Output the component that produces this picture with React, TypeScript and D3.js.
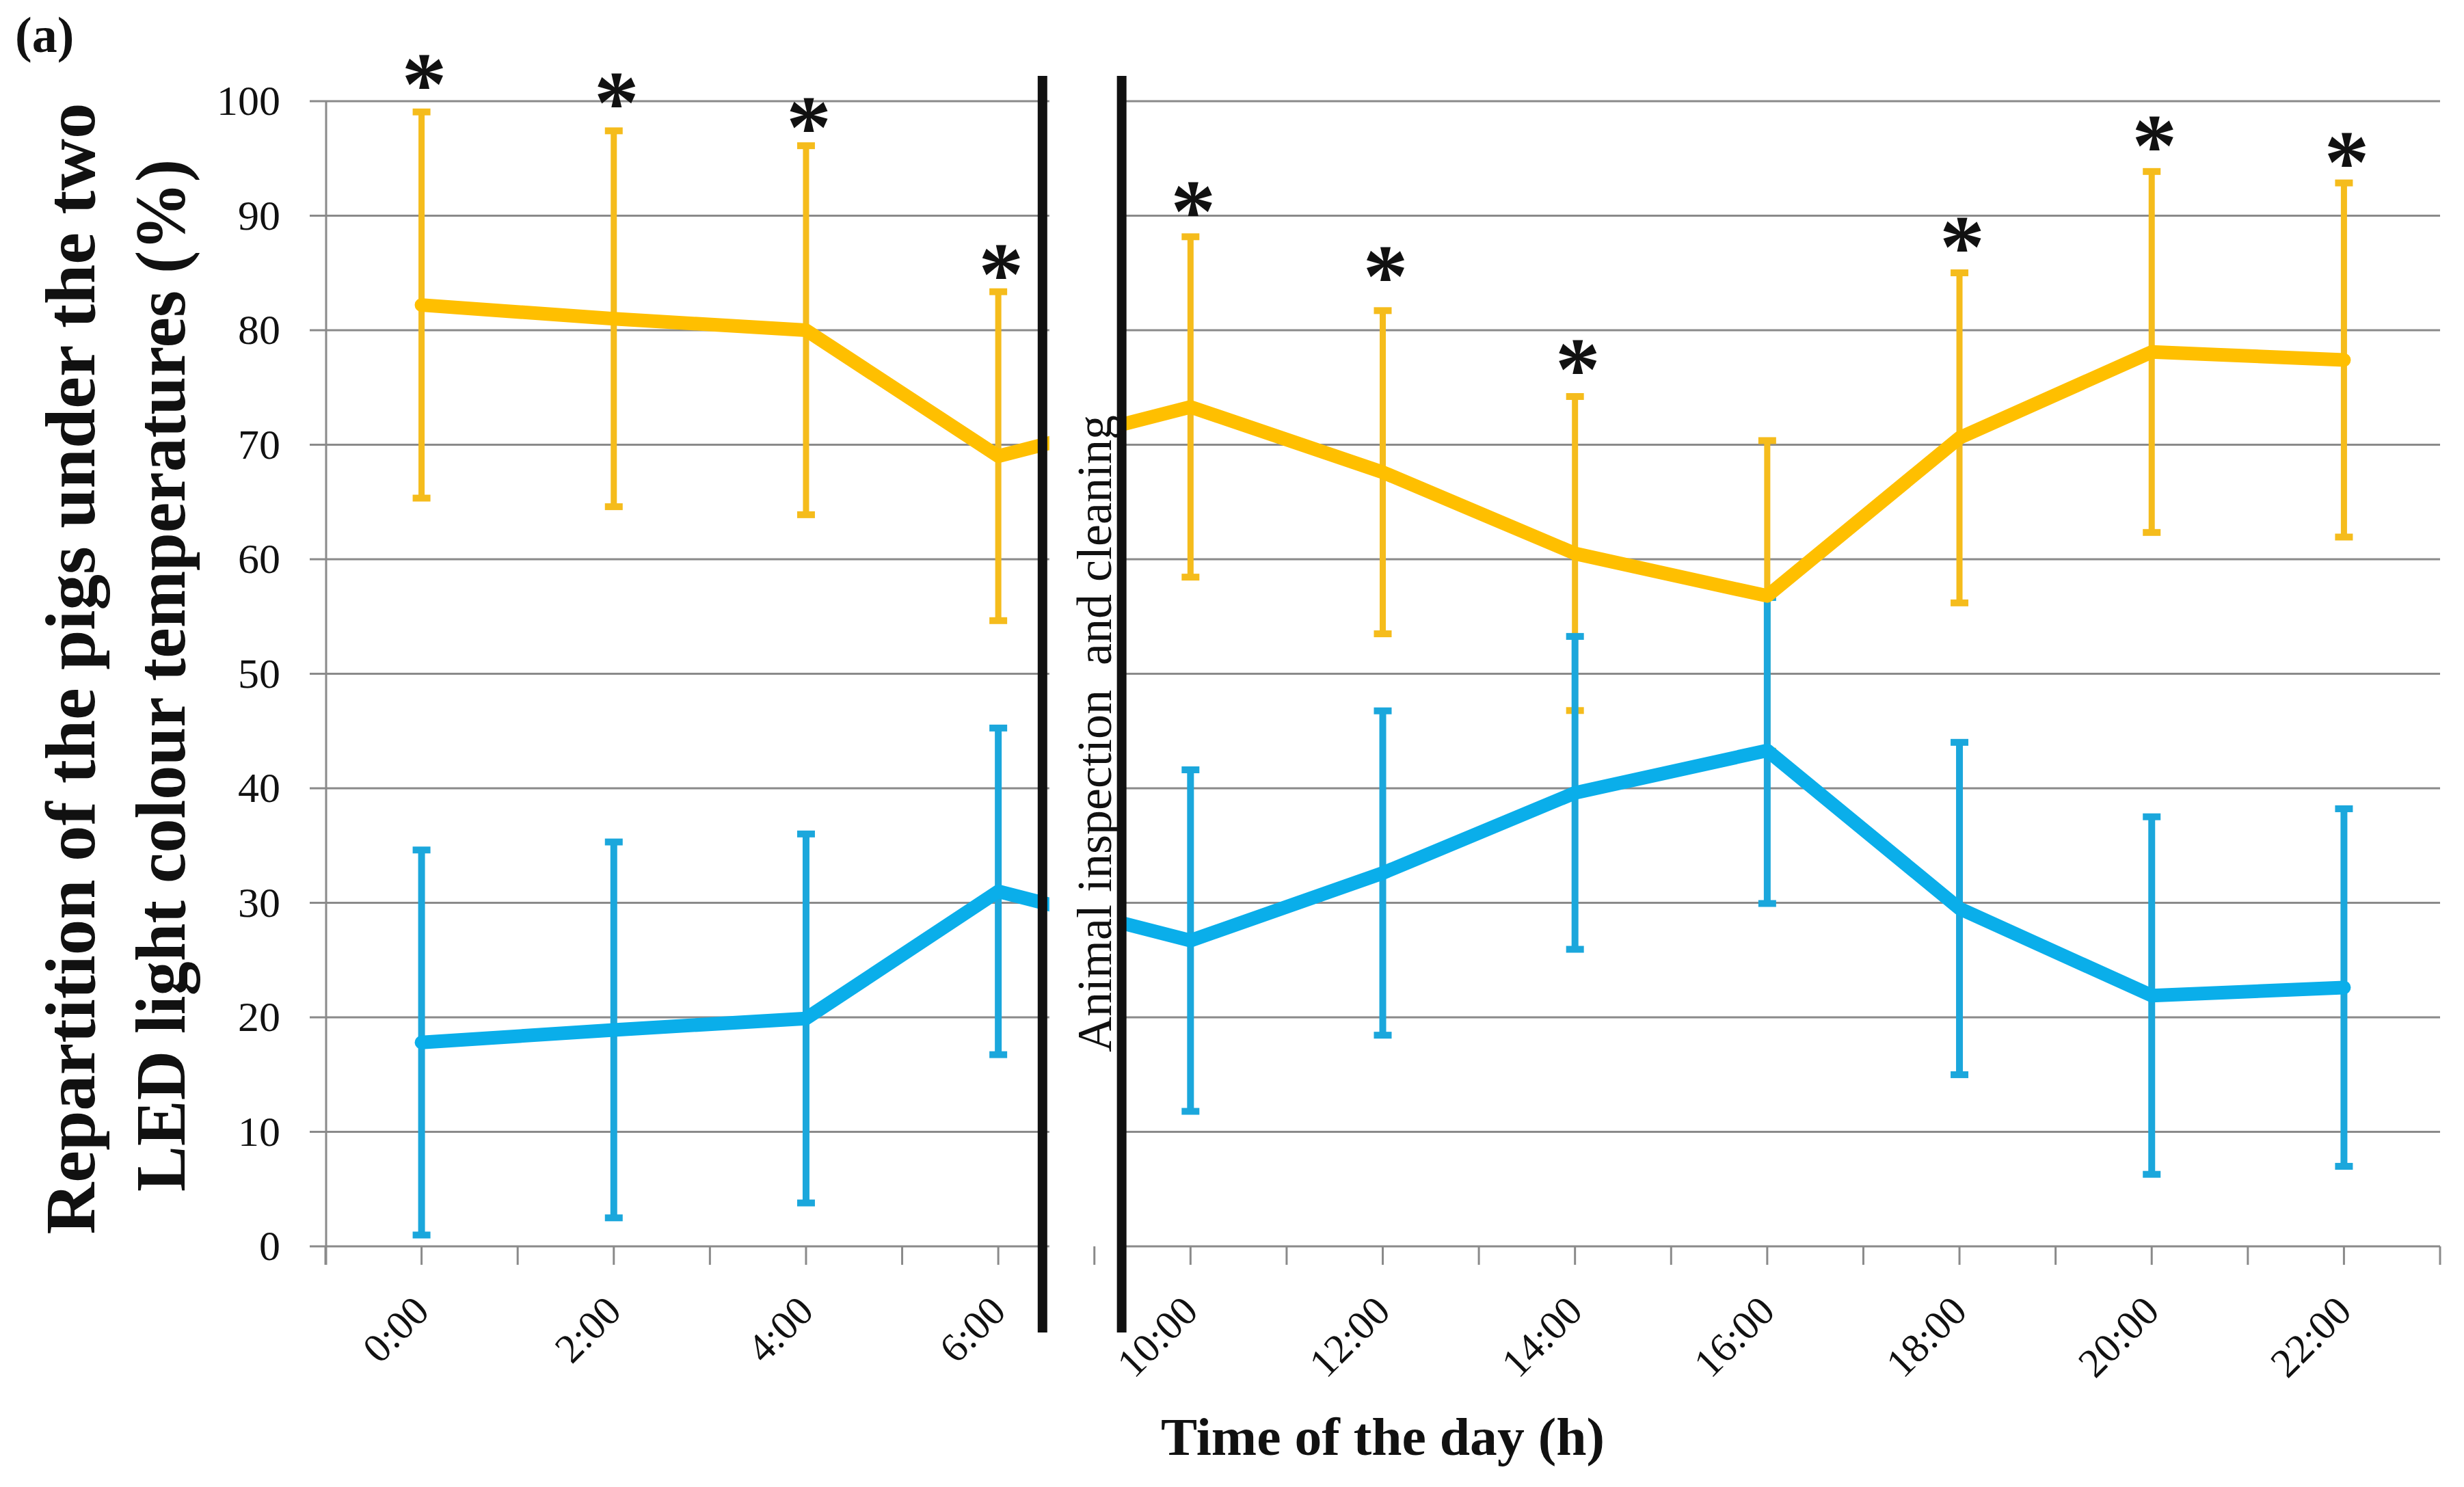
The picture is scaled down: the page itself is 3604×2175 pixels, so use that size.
import React from "react";
import * as d3 from "d3";

const categories = ["0:00", "2:00", "4:00", "6:00", "10:00", "12:00", "14:00", "16:00", "18:00", "20:00", "22:00"];
const yellowMean = [82.2, 81.0, 80.0, 69.0, 73.3, 67.6, 60.5, 56.8, 70.6, 78.1, 77.4];
const yellowSD = [17.1, 16.65, 16.35, 14.6, 15.1, 14.35, 13.95, 13.8, 14.65, 16.0, 15.7];
const blueMean = [17.8, 18.9, 19.9, 31.0, 26.7, 32.6, 39.6, 43.3, 29.5, 21.9, 22.6];
const blueSD = [17.05, 16.65, 16.35, 14.5, 15.15, 14.4, 13.9, 13.6, 14.75, 15.85, 15.85];
const starValue: (number | null)[] = [102.7, 101.1, 98.9, 86.1, 91.6, 85.9, 77.8, null, 88.5, 97.3, 95.9];
const yTicks = [0, 10, 20, 30, 40, 50, 60, 70, 80, 90, 100];

const yTitle1 = "Repartition of the pigs under the two";
const yTitle2 = "LED light colour temperatures (%)";
const xTitle = "Time of the day (h)";
const gapLabel = "Animal inspection  and cleaning";
const panelLabel = "(a)";

const W = 3604;
const H = 2175;

const YELLOW_LINE = "#FFBF00";
const YELLOW_BAR = "#F5BC1C";
const BLUE_LINE = "#0AAEEA";
const BLUE_BAR = "#1BA7DC";
const GRID = "#8a8a8a";

export default function App() {
  const x = d3.scaleBand<string>().domain(categories).range([476, 3569]).padding(0);
  const y = d3.scaleLinear().domain([0, 100]).range([1823, 148]);
  const bw = x.bandwidth();
  const cx = (i: number) => (x(categories[i]) as number) + bw / 2;

  const line = d3
    .line<number>()
    .x((_, i) => cx(i))
    .y((d) => y(d));

  const tickXs: number[] = [];
  categories.forEach((c) => {
    tickXs.push(x(c) as number);
    tickXs.push((x(c) as number) + bw / 2);
  });
  tickXs.push(x.range()[1]);

  const boundary = x("10:00") as number;
  const leftBar = boundary - 0.27 * bw;
  const rightBar = boundary + 0.142 * bw;

  const serif = "'Liberation Serif', 'Times New Roman', serif";

  const errorBars = (means: number[], sds: number[], color: string, w: number) =>
    means.map((m, i) => {
      const top = y(m + sds[i]);
      const bot = y(Math.max(0, m - sds[i]));
      const xc = cx(i);
      return (
        <g key={i}>
          <line x1={xc} x2={xc} y1={top} y2={bot} stroke={color} strokeWidth={w} />
          <line x1={xc - 13} x2={xc + 13} y1={top + 4} y2={top + 4} stroke={color} strokeWidth={10} />
          <line x1={xc - 13} x2={xc + 13} y1={bot - 4} y2={bot - 4} stroke={color} strokeWidth={10} />
        </g>
      );
    });

  return (
    <svg
      width={W}
      height={H}
      viewBox={`0 0 ${W} ${H}`}
      style={{ position: "absolute", left: 0, top: 0, background: "#fff" }}
    >
      <rect x={0} y={0} width={W} height={H} fill="#fff" />

      {yTicks.map((t) => (
        <line key={t} x1={453} x2={x.range()[1]} y1={y(t)} y2={y(t)} stroke={GRID} strokeWidth={3} />
      ))}
      <line x1={477} x2={477} y1={y(100)} y2={y(0) + 27} stroke={GRID} strokeWidth={3} />

      <g>{errorBars(yellowMean, yellowSD, YELLOW_BAR, 9)}</g>
      <g>{errorBars(blueMean, blueSD, BLUE_BAR, 10)}</g>

      <path d={line(blueMean) || ""} fill="none" stroke={BLUE_LINE} strokeWidth={20} strokeLinejoin="round" strokeLinecap="round" />
      <path d={line(yellowMean) || ""} fill="none" stroke={YELLOW_LINE} strokeWidth={20} strokeLinejoin="round" strokeLinecap="round" />

      <rect x={leftBar + 10} y={115} width={rightBar - leftBar - 12} height={y(0) + 2 - 115} fill="#fff" />

      {tickXs.map((tx, i) => (
        <line key={i} x1={tx} x2={tx} y1={y(0)} y2={y(0) + 27} stroke={GRID} strokeWidth={3} />
      ))}

      <line x1={leftBar} x2={leftBar} y1={111} y2={1949} stroke="#111" strokeWidth={14} />
      <line x1={rightBar} x2={rightBar} y1={111} y2={1949} stroke="#111" strokeWidth={14} />

      <text
        transform={`translate(1625, 1073) rotate(-90)`}
        textAnchor="middle"
        fontFamily={serif}
        fontSize={72}
        textLength={932}
        lengthAdjust="spacingAndGlyphs"
        style={{ whiteSpace: "pre" }}
        fill="#111"
      >
        {gapLabel}
      </text>

      {starValue.map((v, i) =>
        v == null ? null : (
          <text
            key={i}
            x={cx(i) + 4}
            y={y(v) + 64}
            textAnchor="middle"
            fontFamily={serif}
            fontWeight="bold"
            fontSize={132}
            fill="#111"
          >
            *
          </text>
        )
      )}

      {yTicks.map((t) => (
        <text key={t} x={410} y={y(t)} dy="0.33em" textAnchor="end" fontFamily={serif} fontSize={62} fill="#111">
          {t}
        </text>
      ))}

      {categories.map((c, i) => (
        <text
          key={c}
          transform={`translate(${cx(i) + 14}, 1921) rotate(-45)`}
          textAnchor="end"
          fontFamily={serif}
          fontSize={60}
          fill="#111"
        >
          {c}
        </text>
      ))}

      <text
        x={(x.range()[0] + x.range()[1]) / 2}
        y={2128}
        textAnchor="middle"
        fontFamily={serif}
        fontWeight="bold"
        fontSize={78}
        textLength={649}
        lengthAdjust="spacingAndGlyphs"
        fill="#111"
      >
        {xTitle}
      </text>
      <text
        transform="translate(138, 978) rotate(-90)"
        textAnchor="middle"
        fontFamily={serif}
        fontWeight="bold"
        fontSize={104}
        textLength={1655}
        lengthAdjust="spacingAndGlyphs"
        fill="#111"
      >
        {yTitle1}
      </text>
      <text
        transform="translate(270, 988) rotate(-90)"
        textAnchor="middle"
        fontFamily={serif}
        fontWeight="bold"
        fontSize={104}
        textLength={1510}
        lengthAdjust="spacingAndGlyphs"
        fill="#111"
      >
        {yTitle2}
      </text>

      <text x={22} y={76} fontFamily={serif} fontWeight="bold" fontSize={74} fill="#111">
        {panelLabel}
      </text>
    </svg>
  );
}
